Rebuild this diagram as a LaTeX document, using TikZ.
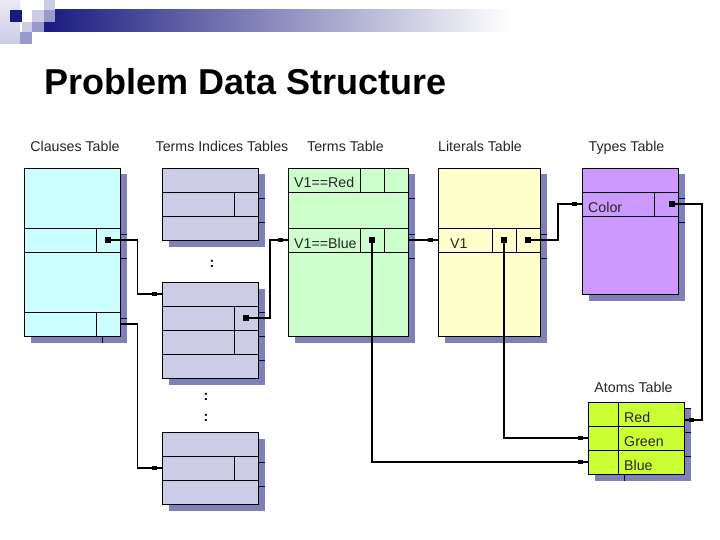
\documentclass[tikz,border=0pt]{standalone}
\usepackage{fontspec}
\setmainfont{Liberation Sans}
\definecolor{shadowc}{HTML}{8080B8}
\definecolor{cyanfill}{HTML}{CCFFFF}
\definecolor{bluefill}{HTML}{CCCCE6}
\definecolor{greenfill}{HTML}{CCFFCC}
\definecolor{yellowfill}{HTML}{FFFFCC}
\definecolor{purplefill}{HTML}{CC99FF}
\definecolor{limefill}{HTML}{CCFF33}
\definecolor{navy}{HTML}{1A1A80}
\definecolor{sqlight}{HTML}{CCCCE6}
\definecolor{sqmid}{HTML}{9999CC}
\tikzset{
  x=1pt,y=-1pt,
  table/.style={draw=black,line width=0.8pt,fill=#1,rectangle,inner sep=0pt,outer sep=0pt,anchor=north west},
  cellline/.style={line width=0.8pt,draw=black},
  tick/.style={line width=0.8pt,draw=black!70!blue},
  link/.style={line width=1.8pt,draw=black,line join=miter},
  bigdot/.style={fill=black,inner sep=0pt,minimum size=6pt,rectangle,draw=none},
  smalldot/.style={fill=black,inner sep=0pt,minimum width=5pt,minimum height=4.5pt,rectangle,draw=none},
  caption/.style={font=\fontsize{14.2}{16}\selectfont,text=black!85,inner sep=0pt,anchor=base},
  celltext/.style={font=\fontsize{14.2}{16}\selectfont,text=black!85,inner sep=0pt,anchor=base west},
  colon/.style={font=\fontsize{14.2}{16}\selectfont\bfseries,inner sep=0pt,anchor=center},
}
% name, x, y, w, h, fill
\newcommand{\tbl}[6]{%
  \fill[shadowc] (#2+6,#3+6) rectangle ++(#4,#5);
  \node[table=#6,minimum width=#4 pt,minimum height=#5 pt] (#1) at (#2,#3) {};
}
\begin{document}
\begin{tikzpicture}
\useasboundingbox (0,0) rectangle (720,540);
\fill[white] (0,0) rectangle (720,540);
% header
\shade[left color=navy,right color=white,shading angle=90] (44,10) rectangle (510,32);
\shade[top color=white!60!sqlight,bottom color=sqlight] (0,0) rectangle (20,44);
\fill[navy] (10,10) rectangle (22,22);
\fill[white] (20,10) -- (32,10) -- (32,22) -- (22,22) -- (22,10) -- cycle;
\fill[sqlight] (44,0) rectangle (55,10);
\fill[sqlight] (32,10) rectangle (44,22);
\fill[sqmid] (44,10) rectangle (55,22);
\fill[sqlight] (22,22) rectangle (32,32);
\fill[sqmid] (32,22) rectangle (44,32);
\fill[sqmid] (20,32) rectangle (32,44);
\node[font=\fontsize{36}{40}\selectfont\bfseries,inner sep=0pt,anchor=base west] (title) at (44,95) {Problem Data Structure};
% captions
\node[caption] (capC) at (75,152) {Clauses Table};
\node[caption] (capI) at (222,152) {Terms Indices Tables};
\node[caption] (capT) at (345.5,152) {Terms Table};
\node[caption] (capL) at (480,152) {Literals Table};
\node[caption] (capY) at (626.5,152) {Types Table};
\node[caption] (capA) at (633.5,392) {Atoms Table};
% tables
\tbl{clauses}{24.5}{168.5}{96}{168}{cyanfill}
\tbl{idxa}{162.5}{168.5}{96}{72}{bluefill}
\tbl{idxb}{162.5}{282.5}{96}{96}{bluefill}
\tbl{idxc}{162.5}{432.5}{96}{72}{bluefill}
\tbl{terms}{288.5}{168.5}{120}{168}{greenfill}
\tbl{literals}{438.5}{168.5}{102}{168}{yellowfill}
\tbl{types}{582.5}{168.5}{96}{126}{purplefill}
\tbl{atoms}{588.5}{402.5}{96}{72}{limefill}
% clauses cells
\draw[cellline] (24.5,228.5) -- (120.5,228.5) (24.5,252.5) -- (120.5,252.5) (24.5,312.5) -- (120.5,312.5);
\draw[cellline] (96.5,228.5) -- (96.5,252.5) (96.5,312.5) -- (96.5,336.5);
\draw[tick] (120.5,234.5) -- (126.5,234.5) (120.5,258.5) -- (126.5,258.5) (120.5,318.5) -- (126.5,318.5) (102.5,336.5) -- (102.5,342.5);
% index tables
\draw[cellline] (162.5,192.5) -- (258.5,192.5) (162.5,216.5) -- (258.5,216.5) (234.5,192.5) -- (234.5,216.5);
\draw[tick] (258.5,198.5) -- (264.5,198.5) (258.5,222.5) -- (264.5,222.5);
\draw[cellline] (162.5,306.5) -- (258.5,306.5) (162.5,330.5) -- (258.5,330.5) (162.5,354.5) -- (258.5,354.5) (234.5,306.5) -- (234.5,354.5);
\draw[tick] (258.5,312.5) -- (264.5,312.5) (258.5,336.5) -- (264.5,336.5) (258.5,360.5) -- (264.5,360.5);
\draw[cellline] (162.5,456.5) -- (258.5,456.5) (162.5,480.5) -- (258.5,480.5) (234.5,456.5) -- (234.5,480.5);
\draw[tick] (258.5,462.5) -- (264.5,462.5) (258.5,486.5) -- (264.5,486.5);
% terms
\draw[cellline] (288.5,192.5) -- (408.5,192.5) (288.5,228.5) -- (408.5,228.5) (288.5,252.5) -- (408.5,252.5);
\draw[cellline] (360.5,168.5) -- (360.5,192.5) (384.5,168.5) -- (384.5,192.5) (360.5,228.5) -- (360.5,252.5) (384.5,228.5) -- (384.5,252.5);
\draw[tick] (408.5,198.5) -- (414.5,198.5) (408.5,234.5) -- (414.5,234.5) (408.5,258.5) -- (414.5,258.5);
% literals
\draw[cellline] (438.5,228.5) -- (540.5,228.5) (438.5,252.5) -- (540.5,252.5) (492.5,228.5) -- (492.5,252.5) (516.5,228.5) -- (516.5,252.5);
\draw[tick] (540.5,234.5) -- (546.5,234.5) (540.5,258.5) -- (546.5,258.5);
% types
\draw[cellline] (582.5,192.5) -- (678.5,192.5) (582.5,216.5) -- (678.5,216.5) (654.5,192.5) -- (654.5,216.5);
\draw[tick] (678.5,198.5) -- (684.5,198.5) (678.5,222.5) -- (684.5,222.5);
% atoms
\draw[cellline] (588.5,426.5) -- (684.5,426.5) (588.5,450.5) -- (684.5,450.5) (618.5,402.5) -- (618.5,474.5);
\draw[tick] (684.5,408.5) -- (690.5,408.5) (684.5,432.5) -- (690.5,432.5) (684.5,456.5) -- (690.5,456.5) (624.5,474.5) -- (624.5,480.5);
% cell texts
\node[celltext] (tRed) at (294,188) {V1==Red};
\node[celltext] (tBlue) at (294,248) {V1==Blue};
\node[celltext] (tV) at (450,248) {V1};
\node[celltext] (tColor) at (588,212) {Color};
\node[celltext] (aRed) at (624,422) {Red};
\node[celltext] (aGreen) at (624,446) {Green};
\node[celltext] (aBlue) at (624,470) {Blue};
% ellipsis marks
\node[colon] (dotsa) at (212,264) {:};
\node[colon] (dotsb) at (206,397) {:};
\node[colon] (dotsc) at (206,418) {:};
% connector anchors
\coordinate (cA) at (108,240);
\coordinate (cB) at (120.5,324);
\coordinate (iA) at (162.5,294);
\coordinate (iC) at (162.5,468);
\coordinate (iB) at (246,318);
\coordinate (tIn) at (288.5,240);
\coordinate (tOut) at (408.5,240);
\coordinate (tDot) at (372,240);
\coordinate (lIn) at (438.5,240);
\coordinate (lA) at (504,240);
\coordinate (lB) at (528,240);
\coordinate (yIn) at (582.5,204);
\coordinate (yDot) at (672,204);
\coordinate (aR) at (684.5,420);
\coordinate (aG) at (588.5,438);
\coordinate (aB) at (588.5,462);
% connectors
\draw[link] (cA) -- (137.5,240) -- (137.5,294) -- (iA);
\draw[link] (cB) -- (137.5,324) -- (137.5,468) -- (iC);
\draw[link] (iB) -- (270,318) -- (270,240) -- (tIn);
\draw[link] (tOut) -- (lIn);
\draw[link] (lB) -- (558,240) -- (558,204) -- (yIn);
\draw[link] (yDot) -- (702,204) -- (702,420) -- (aR);
\draw[link] (lA) -- (504,438) -- (aG);
\draw[link] (tDot) -- (372,462) -- (aB);
% end markers
\foreach \p in {cA,iB,tDot,lA,lB,yDot} \node[bigdot] at (\p) {};
\node[smalldot] at (154.5,294) {};
\node[smalldot] at (154.5,468) {};
\node[smalldot] at (280.5,240) {};
\node[smalldot] at (430.5,240) {};
\node[smalldot] at (574.5,204) {};
\node[smalldot] at (691.5,420) {};
\node[smalldot] at (580.5,438) {};
\node[smalldot] at (580.5,462) {};
\end{tikzpicture}
\end{document}
